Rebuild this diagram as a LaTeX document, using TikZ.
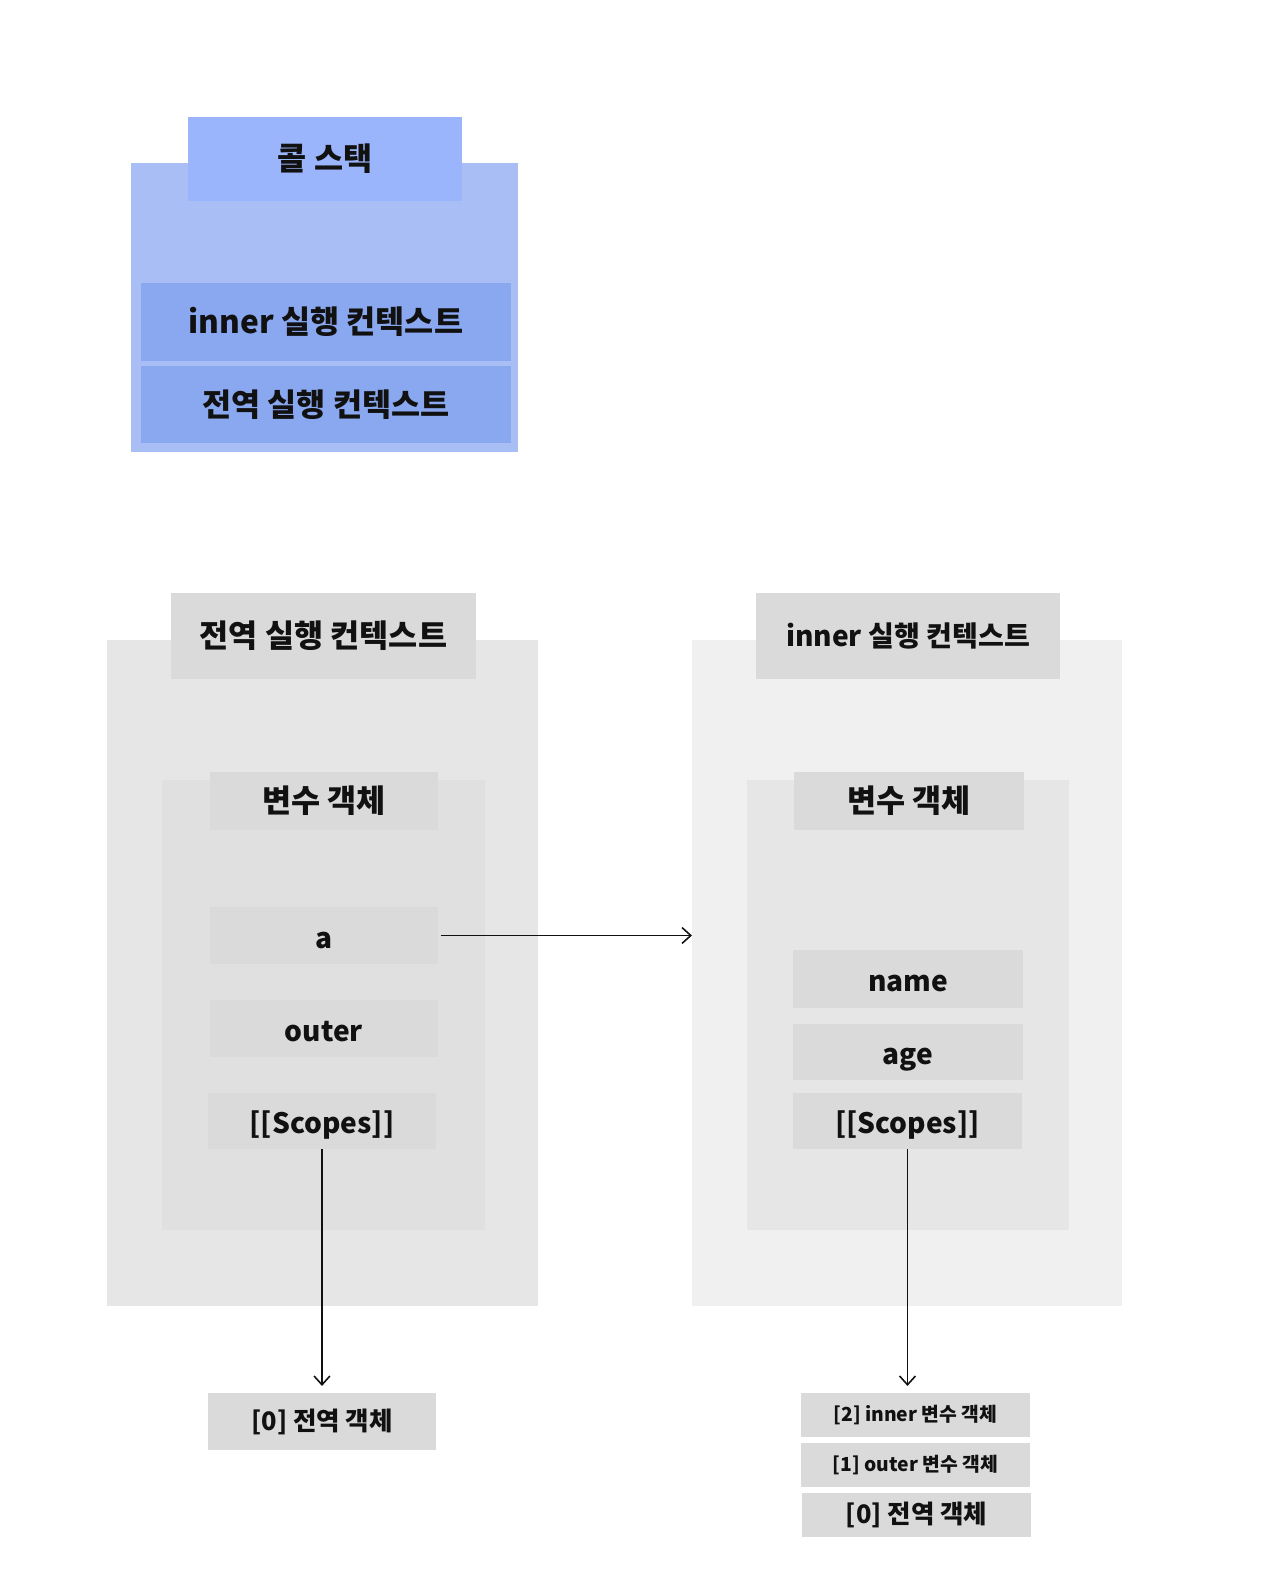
\documentclass[tikz,border=0pt]{standalone}
\usepackage{fontspec}
\setmainfont{Noto Sans CJK KR}
\usetikzlibrary{positioning, calc, arrows.meta}

\definecolor{stackout}{RGB}{168,190,245}
\definecolor{stacktitle}{RGB}{155,181,252}
\definecolor{stackrow}{RGB}{138,168,240}
\definecolor{ctxglobal}{RGB}{230,230,230}
\definecolor{ctxinner}{RGB}{240,240,240}
\definecolor{vobox}{RGB}{224,224,224}
\definecolor{voinner}{RGB}{230,230,230}
\definecolor{cell}{RGB}{218,218,218}
\definecolor{ink}{RGB}{17,17,17}

\begin{document}
\begin{tikzpicture}[x=0.02cm, y=-0.02cm,
    box/.style={anchor=north west, inner sep=0pt, outer sep=0pt, text=ink,
        font=\bfseries\fontsize{18}{20}\selectfont},
    latin/.style={font=\bfseries\fontsize{16}{18}\selectfont, text height=14.5pt, text depth=0pt},
    mid/.style={font=\bfseries\fontsize{14.5}{16}\selectfont},
    small/.style={font=\bfseries\fontsize{11}{13}\selectfont},
    link/.style={-{Straight Barb[length=5pt, width=9pt]}, line width=0.9pt, ink}]
    \useasboundingbox (0,0) rectangle (1279,1577);

    % call stack
    \node[box, fill=stackout, minimum width=7.74cm, minimum height=5.78cm] (stack) at (131,163) {};
    \node[box, fill=stacktitle, minimum width=5.48cm, minimum height=1.68cm] (stacktop) at (188,117) {콜 스택};
    \node[box, fill=stackrow, minimum width=7.40cm, minimum height=1.56cm] (rowinner) at (141,283) {inner 실행 컨텍스트};
    \node[box, fill=stackrow, minimum width=7.40cm, minimum height=1.54cm] (rowglobal) at (141,366) {전역 실행 컨텍스트};

    % global execution context
    \node[box, fill=ctxglobal, minimum width=8.62cm, minimum height=13.32cm] (gctx) at (107,640) {};
    \node[box, fill=cell, minimum width=6.10cm, minimum height=1.72cm] (gtitle) at (171,593) {전역 실행 컨텍스트};
    \node[box, fill=vobox, minimum width=6.46cm, minimum height=9.00cm] (gvo) at (162,780) {};
    \node[box, fill=cell, minimum width=4.56cm, minimum height=1.16cm] (gvotitle) at (210,772) {변수 객체};
    \node[box, latin, fill=cell, minimum width=4.56cm, minimum height=1.14cm] (a) at (210,907) {a};
    \node[box, latin, fill=cell, minimum width=4.56cm, minimum height=1.14cm] (outer) at (210,1000) {outer};
    \node[box, latin, fill=cell, minimum width=4.56cm, minimum height=1.12cm] (gscopes) at (208,1093) {[[Scopes]]};
    \node[box, mid, fill=cell, minimum width=4.56cm, minimum height=1.14cm] (gobj) at (208,1393) {[0] 전역 객체};

    % inner execution context
    \node[box, fill=ctxinner, minimum width=8.60cm, minimum height=13.32cm] (ictx) at (692,640) {};
    \node[box, fill=cell, font=\bfseries\fontsize{16}{18}\selectfont, minimum width=6.08cm, minimum height=1.72cm] (ititle) at (756,593) {inner 실행 컨텍스트};
    \node[box, fill=voinner, minimum width=6.44cm, minimum height=9.00cm] (ivo) at (747,780) {};
    \node[box, fill=cell, minimum width=4.60cm, minimum height=1.16cm] (ivotitle) at (794,772) {변수 객체};
    \node[box, latin, fill=cell, minimum width=4.60cm, minimum height=1.16cm] (name) at (793,950) {name};
    \node[box, latin, fill=cell, minimum width=4.60cm, minimum height=1.12cm] (age) at (793,1024) {age};
    \node[box, latin, fill=cell, minimum width=4.58cm, minimum height=1.12cm] (iscopes) at (793,1093) {[[Scopes]]};
    \node[box, small, fill=cell, minimum width=4.58cm, minimum height=0.88cm] (chain2) at (801,1393) {[2] inner 변수 객체};
    \node[box, small, fill=cell, minimum width=4.58cm, minimum height=0.88cm] (chain1) at (801,1443) {[1] outer 변수 객체};
    \node[box, mid, fill=cell, minimum width=4.58cm, minimum height=0.88cm] (chain0) at (802,1493) {[0] 전역 객체};

    \draw[link] (a.east) ++(3,0) -- (a.east -| ictx.west);
    \draw[link, shorten >=4pt] (gscopes.south) -- (gscopes.south |- gobj.north);
    \draw[link, shorten >=4pt] (iscopes.south) -- (iscopes.south |- chain2.north);
\end{tikzpicture}
\end{document}
